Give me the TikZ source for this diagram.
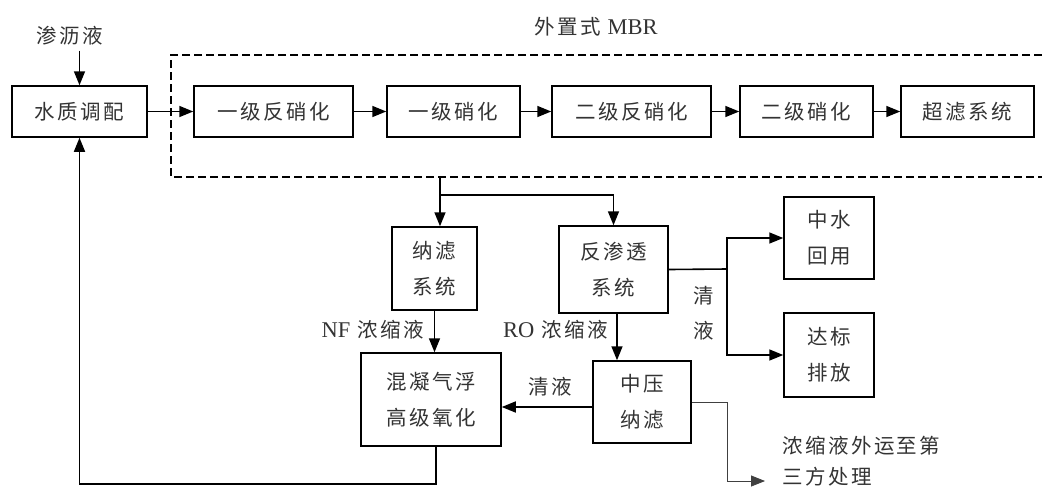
\documentclass[tikz,border=0pt]{standalone}
\usepackage{fontspec}
\setmainfont{Liberation Serif}
\newfontfamily\cjk{Noto Sans CJK SC}[LetterSpace=12]
\usetikzlibrary{arrows.meta}
\newcommand\txt{\cjk\fontsize{20.5}{36}\selectfont}
\newcommand\lat{\rmfamily\fontsize{22.5}{36}\selectfont}
\begin{document}
\begin{tikzpicture}[x=1pt,y=-1pt,
  box/.style={draw=black, line width=1.5pt, inner sep=0pt, align=center, font=\txt, text=black!80},
  lbl/.style={inner sep=0pt, align=center, font=\txt, text=black!80},
  conn/.style={line width=1.6pt, draw=black},
  arr/.style={conn, -{Triangle[length=14pt,width=11pt]}},
  thinarr/.style={line width=0.8pt, draw=black!75, -{Triangle[length=14pt,width=11pt]}},
  mbr/.style={line width=1.4pt, dash pattern=on 8pt off 4pt}]
\useasboundingbox (0,0) rectangle (1042,488);
\fill[white] (0,0) rectangle (1042,488);

% labels
\node[lbl] (leach) at (70,36) {渗沥液};
\node[lbl] (mbrlbl) at (596,27) {外置式 {\lat MBR}};

% top row
\node[box, minimum width=135pt, minimum height=51pt] (adj) at (79.5,111.5) {水质调配};
\node[box, minimum width=159pt, minimum height=51pt] (b1) at (273.5,111.5) {一级反硝化};
\node[box, minimum width=133pt, minimum height=51pt] (b2) at (453.5,111.5) {一级硝化};
\node[box, minimum width=159pt, minimum height=51pt] (b3) at (631.5,111.5) {二级反硝化};
\node[box, minimum width=133pt, minimum height=51pt] (b4) at (806.5,111.5) {二级硝化};
\node[box, minimum width=133pt, minimum height=51pt] (b5) at (967.5,111.5) {超滤系统};

% dashed MBR frame
\draw[mbr] (1042,55) -- (171,55) -- (171,177) -- (1042,177);

% lower boxes
\node[box, minimum width=85pt, minimum height=83pt] (nf) at (434.5,268.5) {纳滤\\系统};
\node[box, minimum width=109pt, minimum height=87pt] (ro) at (613.5,269.5) {反渗透\\系统};
\node[box, minimum width=140pt, minimum height=93pt] (coag) at (431,399.5) {混凝气浮\\高级氧化};
\node[box, minimum width=98pt, minimum height=82pt] (mnf) at (642,402) {中压\\纳滤};
\node[box, minimum width=90pt, minimum height=82pt] (reuse) at (829,238) {中水\\回用};
\node[box, minimum width=90pt, minimum height=84pt] (disch) at (829,355) {达标\\排放};

% edge labels
\node[lbl, anchor=east] (nfc) at (424,330) {{\lat NF} 浓缩液};
\node[lbl, anchor=east] (roc) at (608,330) {{\lat RO} 浓缩液};
\node[lbl] (clear1) at (550,387) {清液};
\node[lbl, font=\cjk\fontsize{20.5}{35}\selectfont] (clear2) at (704,313) {清\\液};
\node[lbl, anchor=north west, align=left, font=\cjk\fontsize{20.5}{31}\selectfont] (conc) at (782,436) {浓缩液外运至第\\三方处理};

% connectors
\coordinate (split) at (440,177);
\coordinate (split2) at (440,195);
\coordinate (jn) at (727,269);
\coordinate (outc) at (765,481);

\draw[arr] ([yshift=-5pt]leach.south -| adj.north) -- (adj.north);
\draw[arr] (adj.east) -- (b1.west);
\draw[arr] (b1.east) -- (b2.west);
\draw[arr] (b2.east) -- (b3.west);
\draw[arr] (b3.east) -- (b4.west);
\draw[arr] (b4.east) -- (b5.west);

\draw[arr] (split) -- (split |- nf.north);
\draw[arr] (split2) -| (ro.north);
\draw[arr] (nf.south) -- (nf.south |- coag.north);
\draw[arr] ([xshift=3.5pt]ro.south) -- ([xshift=3.5pt]ro.south |- mnf.north);
\draw[arr] ([yshift=-5pt]mnf.west) -- ([yshift=-5pt]mnf.west -| coag.east);
\draw[arr] ([xshift=5pt]coag.south) -- ++(0,37) -| (adj.south);

\draw[conn] (ro.east) -- (jn);
\draw[arr] (jn) |- (reuse.west);
\draw[arr] (jn) |- (disch.west);

\draw[thinarr] (mnf.east) -- (mnf.east -| jn) |- (outc);
\end{tikzpicture}
\end{document}
